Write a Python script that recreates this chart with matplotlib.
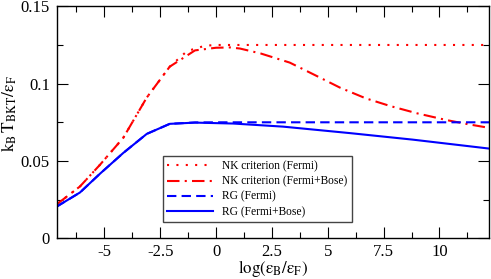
import matplotlib
matplotlib.use("Agg")
import matplotlib.pyplot as plt
from matplotlib.ticker import MultipleLocator

plt.rcParams['font.family'] = ['Liberation Serif', 'DejaVu Serif']
plt.rcParams['mathtext.fontset'] = 'stix'

# data
x_nk_fb = [-7.1, -6.09, -5.19, -4.15, -3.1, -2.07, -0.94, 0.0, 0.63, 1.07, 2.0, 3.3, 4.5, 5.55, 6.7, 7.8, 9.0, 10.33, 11.3, 12.23]
y_nk_fb = [0.0223, 0.0335, 0.0476, 0.065, 0.091, 0.111, 0.1215, 0.1232, 0.1234, 0.1227, 0.1195, 0.1136, 0.105, 0.0974, 0.0905, 0.0855, 0.0808, 0.0764, 0.0737, 0.0714]

x_nk_f = [-7.1, -6.09, -5.19, -4.15, -3.1, -2.07, -1.3, -0.5, 0.0, 12.23]
y_nk_f = [0.0223, 0.0335, 0.0476, 0.065, 0.091, 0.111, 0.121, 0.1245, 0.125, 0.125]

x_rg_fb = [-7.13, -6.09, -5.19, -4.15, -3.1, -2.07, -0.94, 0.77, 3.0, 6.0, 8.8, 12.23]
y_rg_fb = [0.0205, 0.0296, 0.0418, 0.0552, 0.0675, 0.074, 0.0748, 0.0742, 0.0722, 0.068, 0.0638, 0.058]

x_rg_f = [-7.13, -6.09, -5.19, -4.15, -3.1, -2.07, -0.94, 0.0, 12.23]
y_rg_f = [0.0205, 0.0296, 0.0418, 0.0552, 0.0675, 0.074, 0.0749, 0.075, 0.075]

fig = plt.figure(figsize=(4.91, 2.79), dpi=100)
ax = fig.add_axes([0.1155, 0.1459, 0.881, 0.8315])

ax.plot(x_nk_f, y_nk_f, color='red', lw=1.5, linestyle=(0, (1, 3.5)), label='NK criterion (Fermi)')
ax.plot(x_nk_fb, y_nk_fb, color='red', lw=1.5, linestyle=(0, (6, 2.5, 1, 2.5)), label='NK criterion (Fermi+Bose)')
ax.plot(x_rg_f, y_rg_f, color='blue', lw=1.5, linestyle=(0, (4.5, 2.5)), label='RG (Fermi)')
ax.plot(x_rg_fb, y_rg_fb, color='blue', lw=1.5, linestyle='-', label='RG (Fermi+Bose)')

ax.set_xlim(-7.13, 12.23)
ax.set_ylim(0, 0.15)
ax.xaxis.set_minor_locator(MultipleLocator(1.25))
ax.yaxis.set_minor_locator(MultipleLocator(0.025))
ax.set_xticks([-5, -2.5, 0, 2.5, 5, 7.5, 10])
ax.set_xticklabels(['-5', '-2.5', '0', '2.5', '5', '7.5', '10'])
ax.set_yticks([0, 0.05, 0.1, 0.15])
ax.set_yticklabels(['0', '0.05', '0.1', '0.15'])
ax.tick_params(which='both', direction='in', top=True, right=True, width=0.8)
ax.tick_params(axis='x', labelsize=12, pad=4)
ax.tick_params(axis='y', labelsize=12, pad=5)
ax.tick_params(which='major', length=8)
ax.tick_params(which='minor', length=4.5)
for s in ax.spines.values():
    s.set_linewidth(1.0)

ax.set_xlabel(r'$\mathrm{log(\epsilon_B/\epsilon_F)}$', fontsize=12.2, labelpad=-1)
ax.set_ylabel(r'$\mathrm{k_B\,T_{BKT}/\epsilon_F}$', fontsize=12.5)
ax.yaxis.set_label_coords(-0.087, 0.54)

leg = ax.legend(loc='lower left', bbox_to_anchor=(0.246, 0.070), fontsize=8.3,
                fancybox=False, framealpha=1, edgecolor='#444444', handlelength=4.0,
                borderpad=0.35, labelspacing=0.28, handletextpad=0.8, borderaxespad=0)
leg.get_frame().set_linewidth(1.0)

fig.savefig('out.png', dpi=100)
